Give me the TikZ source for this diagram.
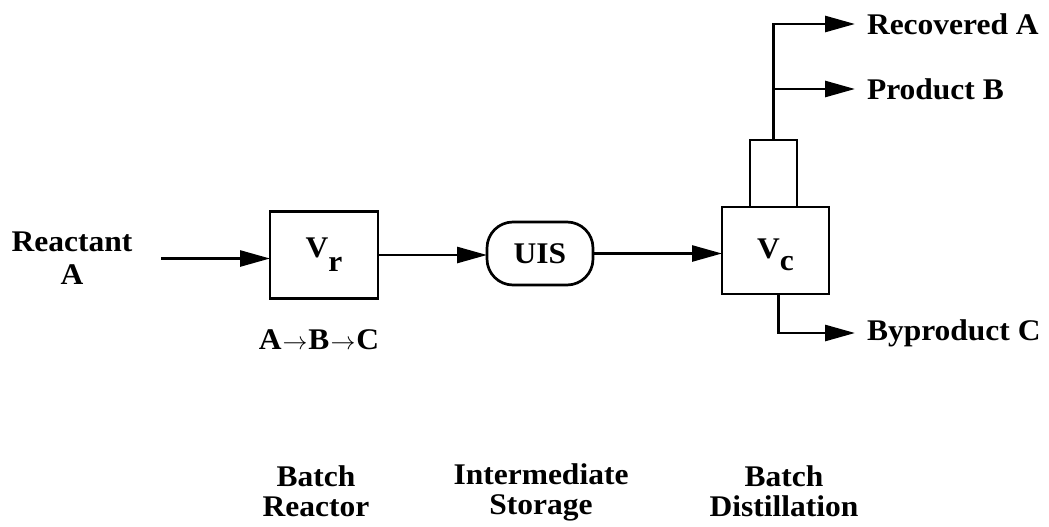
\documentclass[tikz,border=0pt]{standalone}
\usepackage{fontspec}
\setmainfont{Liberation Serif}[FakeStretch=1.05]
\usetikzlibrary{arrows.meta,shapes.misc}
\begin{document}
\begin{tikzpicture}[x=1pt,y=-1pt,
  font=\fontsize{30pt}{30pt}\selectfont\bfseries,
  line width=2.7pt,
  box/.style={draw,rectangle,inner sep=0pt,outer sep=0pt},
  arr/.style={-{Triangle[length=30pt,width=16pt]}},
  lbl/.style={inner sep=0pt,outer sep=0pt,align=center},
]
\useasboundingbox (0,0) rectangle (1049,527);

% process units
\node[box,minimum width=108pt,minimum height=87pt,text height=20pt,text depth=15pt] (vr) at (324,255) {V\raisebox{-14pt}{r}};
\node[box,rounded corners=26pt,minimum width=106pt,minimum height=63pt] (uis) at (540,253.5) {UIS};
\node[box,minimum width=107pt,minimum height=87pt,text height=22pt,text depth=7pt] (vc) at (775.5,250.5) {V\raisebox{-12pt}{c}};
\node[box,minimum width=47pt,minimum height=67pt,anchor=south] (cond) at ([xshift=-2pt]vc.north) {};

% stream labels
\node[lbl] (reac) at (72,258.5) {Reactant\\[3pt]A};
\node[lbl,anchor=west] (reca) at (867,24) {Recovered A};
\node[lbl,anchor=west] (prodb) at (867,89) {Product B};
\node[lbl,anchor=west] (byc) at (867,333) {Byproduct C};
\node[lbl] (rxn) at (319,340) {A\kern1pt$\rightarrow$\kern1pt B\kern1pt$\rightarrow$\kern1pt C};

% unit captions
\node[lbl,anchor=north] (br) at (316,466) {Batch\\Reactor};
\node[lbl,anchor=north] (is) at (541,464) {Intermediate\\Storage};
\node[lbl,anchor=north] (bd) at (784,466) {Batch\\Distillation};

% streams
\draw[arr,shorten <=29pt] (reac.east) -- (reac.east -| vr.west);
\draw[arr] (vr.east) -- (vr.east -| uis.west);
\draw[arr] (uis.east) -- (uis.east -| vc.west);
\draw[arr,shorten >=12pt] (cond.north) |- (reca.west);
\draw[arr,shorten >=12pt] (cond.north |- prodb.west) -- (prodb.west);
\draw[arr,shorten >=12pt] ([xshift=3pt]vc.south) |- (byc.west);
\end{tikzpicture}
\end{document}
